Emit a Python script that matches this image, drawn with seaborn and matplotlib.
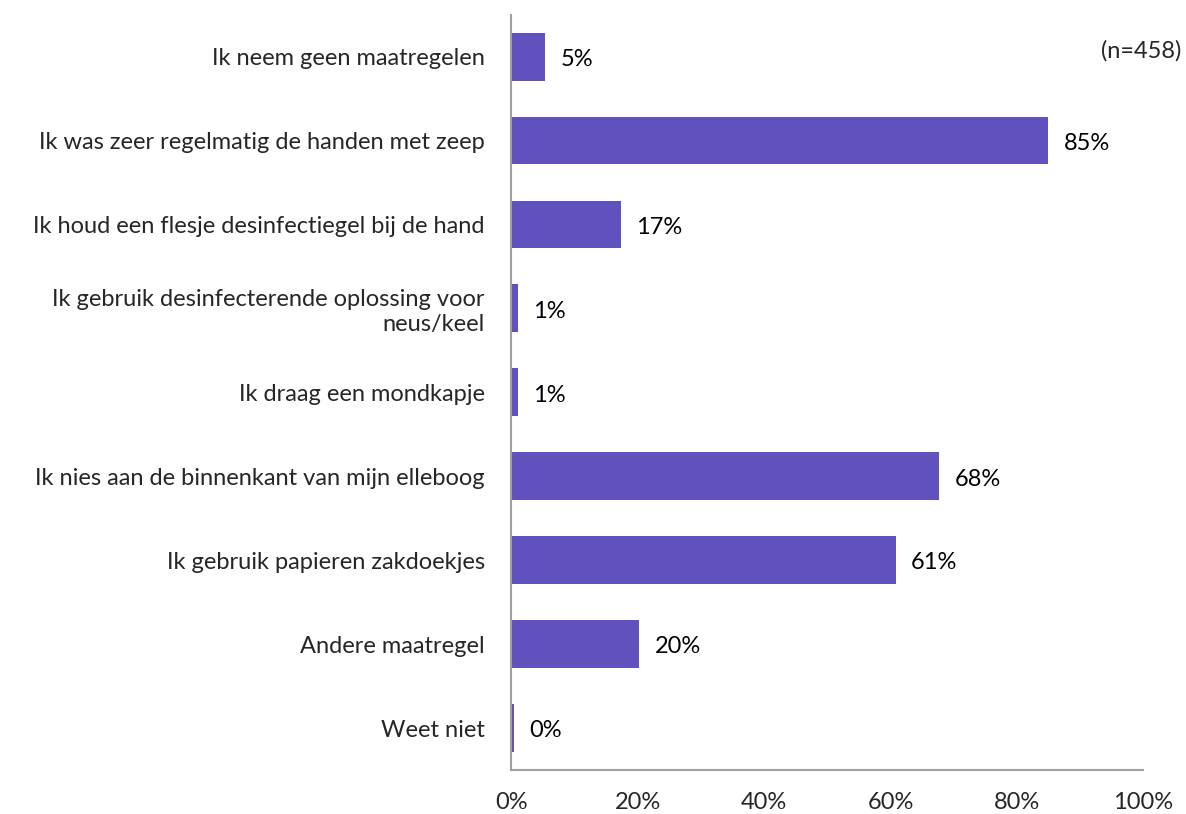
import matplotlib
matplotlib.use("Agg")
import matplotlib.pyplot as plt
import pandas as pd
import seaborn as sns

categories = [
    "Ik neem geen maatregelen",
    "Ik was zeer regelmatig de handen met zeep",
    "Ik houd een flesje desinfectiegel bij de hand",
    "Ik gebruik desinfecterende oplossing voor\nneus/keel",
    "Ik draag een mondkapje",
    "Ik nies aan de binnenkant van mijn elleboog",
    "Ik gebruik papieren zakdoekjes",
    "Andere maatregel",
    "Weet niet",
]
values = [5.4, 85.0, 17.4, 1.1, 1.1, 67.7, 60.8, 20.3, 0.5]
value_labels = ["5%", "85%", "17%", "1%", "1%", "68%", "61%", "20%", "0%"]
x_ticks = [0, 20, 40, 60, 80, 100]

sns.set_style("white")
plt.rcParams["font.family"] = ["Lato", "DejaVu Sans"]
fs = 17

df = pd.DataFrame({"cat": categories, "val": values})

fig = plt.figure(figsize=(11.86, 8.14), dpi=100)
ax = fig.add_axes([0.431, 0.054, 0.533, 0.928])
bar_color = "#5F52BF"
sns.barplot(data=df, x="val", y="cat", color=bar_color, saturation=1,
            width=0.57, ax=ax, edgecolor="none")

# percentage labels next to the bars
for i, (v, lab) in enumerate(zip(values, value_labels)):
    ax.annotate(lab, (v, i), xytext=(11, -2), textcoords="offset points",
                va="center", ha="left", fontsize=fs, color="black")

ax.set_xlim(0, 100)
ax.set_xticks(x_ticks)
ax.set_xticklabels([f"{t}%" for t in x_ticks], fontsize=fs)
ax.set_ylabel("")
ax.set_xlabel("")
ax.tick_params(axis="y", length=0, labelsize=fs, pad=19)
ax.tick_params(axis="x", length=6, width=1.2, color="#A0A0A0", direction="out", pad=10)
for lab in ax.get_yticklabels():
    lab.set_horizontalalignment("right")
    lab.set_multialignment("right")

for s in ["top", "right"]:
    ax.spines[s].set_visible(False)
for s in ["left", "bottom"]:
    ax.spines[s].set_color("#A0A0A0")
    ax.spines[s].set_linewidth(1.5)

fig.text(0.996, 0.938, "(n=458)", ha="right", va="center", fontsize=fs)

fig.savefig("out.png", dpi=100)
